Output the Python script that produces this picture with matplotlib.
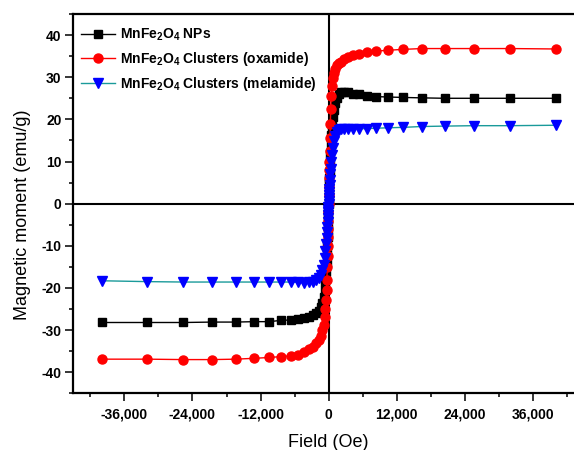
import matplotlib
matplotlib.use('Agg')
import matplotlib.pyplot as plt
from matplotlib.ticker import MultipleLocator, StrMethodFormatter

# =====================
# 字体
# =====================

plt.rcParams['font.family'] = ['Liberation Sans', 'DejaVu Sans']
plt.rcParams['axes.unicode_minus'] = False
plt.rcParams['mathtext.fontset'] = 'custom'
plt.rcParams['mathtext.rm'] = 'Liberation Sans:bold'
plt.rcParams['mathtext.default'] = 'rm'

# =====================
# 数据 (Oe, emu/g)
# =====================

field = [
    -40000, -32000, -25600, -20500, -16400, -13100, -10500, -8400, -6700, -5400,
    -4300, -3400, -2750, -2200, -1760, -1400, -1130, -900, -720, -580,
    -460, -370, -300, -240, -190, -150, -120, -90, -60, -30,
    0,
    30, 60, 90, 120, 150, 190, 240, 300, 370, 460,
    580, 720, 900, 1130, 1400, 1760, 2200, 2750, 3400, 4300,
    5400, 6700, 8400, 10500, 13100, 16400, 20500, 25600, 32000, 40000,
]

m_nps = [
    -28.2, -28.2, -28.2, -28.1, -28.1, -28.0, -28.0, -27.7, -27.6, -27.4,
    -27.1, -26.8, -26.4, -26.0, -25.4, -24.6, -23.5, -22.2, -20.5, -18.5,
    -16.3, -14.0, -11.8, -9.8, -7.8, -6.2, -5.0, -3.7, -2.5, -1.2,
    0.0,
    1.2, 2.5, 3.7, 5.0, 6.2, 7.8, 9.8, 11.8, 14.0, 16.3,
    18.5, 20.5, 22.2, 23.8, 25.0, 25.9, 26.4, 26.5, 26.4, 26.1,
    25.9, 25.6, 25.4, 25.3, 25.2, 25.1, 25.0, 25.0, 25.0, 25.0,
]

m_oxamide = [
    -36.9, -36.9, -37.0, -37.0, -36.9, -36.7, -36.5, -36.3, -36.1, -35.9,
    -35.2, -34.5, -33.9, -33.1, -32.3, -31.3, -30.0, -28.8, -27.0, -25.0,
    -22.9, -20.5, -18.0, -15.0, -12.5, -10.0, -8.0, -6.0, -4.0, -2.0,
    0.0,
    2.0, 4.0, 6.0, 8.0, 10.0, 12.5, 15.5, 19.0, 22.5, 25.5,
    28.0, 29.8, 31.0, 32.0, 32.8, 33.3, 33.7, 34.3, 34.8, 35.2,
    35.6, 35.9, 36.2, 36.4, 36.6, 36.8, 36.8, 36.8, 36.8, 36.7,
]

m_melamide = [
    -18.3, -18.5, -18.6, -18.6, -18.6, -18.6, -18.6, -18.6, -18.6, -18.7,
    -18.8, -18.7, -18.5, -18.2, -17.7, -17.0, -15.8, -14.5, -12.8, -11.2,
    -9.6, -8.2, -6.8, -5.5, -4.4, -3.5, -2.8, -2.1, -1.4, -0.7,
    0.0,
    0.7, 1.4, 2.1, 2.8, 3.5, 4.4, 5.6, 7.0, 8.3, 9.8,
    11.5, 13.2, 14.8, 16.0, 16.9, 17.4, 17.6, 17.7, 17.7, 17.7,
    17.8, 17.8, 17.9, 18.0, 18.1, 18.3, 18.4, 18.5, 18.5, 18.6,
]

labels = [
    'MnFe$_2$O$_4$ NPs',
    'MnFe$_2$O$_4$ Clusters (oxamide)',
    'MnFe$_2$O$_4$ Clusters (melamide)',
]

# =====================
# 创建图表
# =====================

fig = plt.figure(figsize=(5.74, 4.5), dpi=100)
ax = fig.add_axes([0.1277, 0.126, 0.8897, 0.8429])

# =====================
# 绘图
# =====================

ax.plot(field, m_nps, color='black', lw=1, marker='s', ms=6,
        mfc='black', mec='black', label=labels[0])
ax.plot(field, m_oxamide, color='red', lw=1, marker='o', ms=6.5,
        mfc='red', mec='red', label=labels[1])
ax.plot(field, m_melamide, color='#1a9a9a', lw=1, marker='v', ms=7,
        mfc='blue', mec='blue', label=labels[2])

ax.axhline(0, color='black', lw=1.5, zorder=0)
ax.axvline(0, color='black', lw=1.5, zorder=0)

# =====================
# 图表设置
# =====================

ax.set_xlim(-45000, 45000)
ax.set_ylim(-45, 45)

ax.xaxis.set_major_locator(MultipleLocator(12000))
ax.xaxis.set_minor_locator(MultipleLocator(6000))
ax.yaxis.set_major_locator(MultipleLocator(10))
ax.yaxis.set_minor_locator(MultipleLocator(5))
ax.xaxis.set_major_formatter(StrMethodFormatter('{x:,.0f}'))

ax.tick_params(which='major', length=5.5, width=1.1, pad=3)
ax.tick_params(which='minor', length=3.2, width=1.1)
ax.tick_params(axis='x', which='major', pad=5)
for lab in ax.get_xticklabels() + ax.get_yticklabels():
    lab.set_fontsize(10)
    lab.set_fontweight('bold')

for side in ['left', 'bottom', 'top', 'right']:
    ax.spines[side].set_linewidth(1.6)

ax.set_xlabel('Field (Oe)', fontsize=13, labelpad=9)
ax.set_ylabel('Magnetic moment (emu/g)', fontsize=13)
ax.yaxis.set_label_coords(-0.082, 0.47)

ax.legend(
    loc='upper left',
    bbox_to_anchor=(-0.01, 1.0),
    frameon=False,
    prop={'weight': 'bold', 'size': 10},
    handlelength=2.5,
    handletextpad=0.3,
    labelspacing=0.52,
    borderaxespad=0.5,
)

# 保存图片
fig.savefig('out.png', dpi=100)
